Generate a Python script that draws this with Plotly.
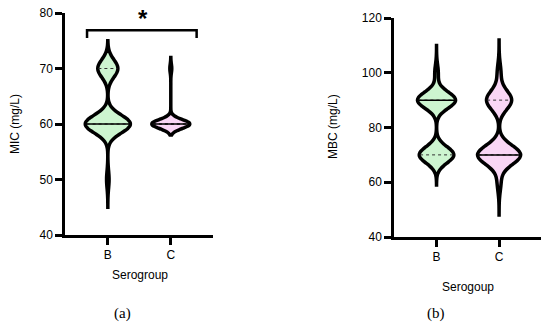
import numpy as np
import plotly.graph_objects as go

# ---- data ----
groups = ["B", "C"]
mic_B = [50] * 1 + [60] * 18 + [70] * 8
mic_C = [60] * 20 + [70] * 1
mbc_B = [70] * 10 + [90] * 11 + [100] * 1
mbc_C = [60] * 1 + [70] * 12 + [90] * 7 + [100] * 1

# kernel bandwidths and drawn spans of each violin
bw_mic = [1.6, 0.8]
bw_mbc = [3.0, 3.5]
span_mic = [[45, 75], [58, 72]]
span_mbc = [[59, 110], [48, 112]]
widths_mic = [0.71, 0.60]
widths_mbc = [0.61, 0.69]

fills = ["#cdf5d0", "#f9d6f5"]

# page body has an 8px margin; figure sized to reach the window edges
OX, OY, W, H = 8, 8, 542, 319


def px(x):
    return (x - OX) / W


def py(y):
    return 1 - (y - OY) / H


fig = go.Figure()


def kde_frac(vals, bw, span, q):
    vals = np.asarray(vals, float)
    grid = np.linspace(span[0], span[1], 3000)
    dens = lambda t: np.exp(-0.5 * ((np.asarray(t)[None, :] - vals[:, None]) / bw) ** 2).sum(axis=0)
    dmax = dens(grid).max()
    return float(dens([q])[0] / dmax)


def add_panel(datasets, bws, spans, wds, xa, ya):
    for i, (vals, bw, sp, wd) in enumerate(zip(datasets, bws, spans, wds)):
        fig.add_trace(go.Violin(
            x=[i] * len(vals), y=vals, xaxis=xa, yaxis=ya,
            bandwidth=bw, spanmode="manual", span=sp, width=wd, scalemode="width",
            fillcolor=fills[i], line=dict(color="black", width=3.5),
            points=False, box_visible=False, meanline_visible=False,
            showlegend=False, hoverinfo="skip", opacity=1,
        ))
        q1, med, q3 = np.percentile(vals, [25, 50, 75])
        for q, dash, lw in [(q1, "dot", 1), (q3, "dot", 1), (med, "solid", 1.5)]:
            f = kde_frac(vals, bw, sp, q) * wd / 2 * 0.95
            fig.add_trace(go.Scatter(
                x=[i - f, i + f], y=[q, q], mode="lines", xaxis=xa, yaxis=ya,
                line=dict(color="black" if dash == "solid" else "#333333", width=lw, dash=dash),
                showlegend=False, hoverinfo="skip",
            ))


add_panel([mic_B, mic_C], bw_mic, span_mic, widths_mic, "x", "y")
add_panel([mbc_B, mbc_C], bw_mbc, span_mbc, widths_mbc, "x2", "y2")

axis_common = dict(showline=True, linecolor="black", linewidth=2.5, ticks="outside",
                   tickwidth=2.5, ticklen=7, tickcolor="black", showgrid=False, zeroline=False,
                   automargin=False, ticklabeloverflow="allow",
                   tickfont=dict(family="Liberation Sans, Arial", size=12, color="black"))

fig.update_layout(
    width=W, height=H, margin=dict(l=0, r=0, t=0, b=0),
    plot_bgcolor="white", paper_bgcolor="white",
    xaxis=dict(domain=[px(65), px(213)], range=[-0.68, 1.67], tickvals=[0, 1],
               ticktext=groups, anchor="y", **axis_common),
    yaxis=dict(domain=[py(235), py(13)], range=[40, 80], tickvals=[40, 50, 60, 70, 80],
               anchor="x", **axis_common),
    xaxis2=dict(domain=[px(394), px(541)], range=[-0.68, 1.67], tickvals=[0, 1],
                ticktext=groups, anchor="y2", **axis_common),
    yaxis2=dict(domain=[py(237), py(18)], range=[40, 120], tickvals=[40, 60, 80, 100, 120],
                anchor="x2", **axis_common),
)

# significance bracket
fig.add_shape(type="path", xref="x", yref="y",
              path="M -0.33 75.5 L -0.33 76.9 L 1.41 76.9 L 1.41 75.5",
              line=dict(color="black", width=2.5))

font_t = dict(family="Liberation Sans, Arial", size=12, color="black")
font_s = dict(family="Liberation Serif, Times New Roman", size=15, color="black")
ann = [
    dict(x=px(143), y=py(19), text="<b>*</b>", font=dict(family="Liberation Sans, Arial", size=24, color="black")),
    dict(x=px(15), y=py(124), text="MIC (mg/L)", textangle=-90, font=font_t),
    dict(x=px(275 + 58), y=py(127), text="MBC (mg/L)", textangle=-90, font=font_t),
    dict(x=px(140), y=py(275), text="Serogroup", font=font_t),
    dict(x=px(468), y=py(287), text="Serogoup", font=font_t),
    dict(x=px(122), y=py(313), text="(a)", font=font_s),
    dict(x=px(436), y=py(313), text="(b)", font=font_s),
]
for a in ann:
    fig.add_annotation(xref="paper", yref="paper", showarrow=False, xanchor="center", yanchor="middle", **a)

fig.write_html("out.html")
